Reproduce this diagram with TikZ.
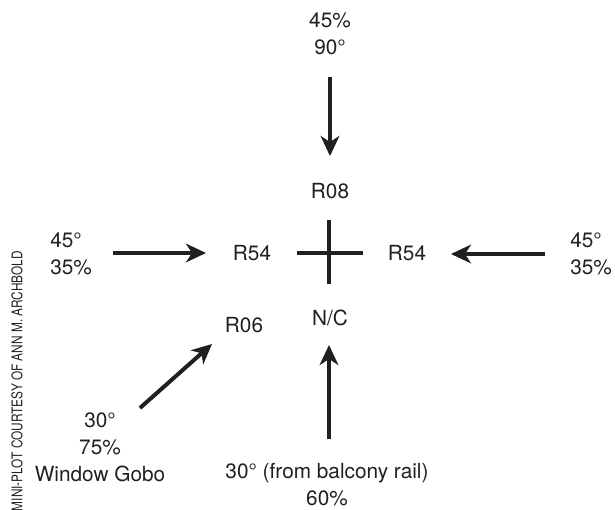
\documentclass[tikz,border=0pt]{standalone}
\usepackage{fontspec}
\setmainfont{TeX Gyre Heros}
\usetikzlibrary{arrows.meta}
\definecolor{ink}{HTML}{231F20}
\tikzset{
  lbl/.style={inner sep=0pt, text=ink, font=\fontsize{15.6}{20.25}\selectfont},
  arr/.style={draw=ink, line width=3pt, -{Stealth[length=15pt, width=14pt, inset=4.5pt]}},
  crossline/.style={draw=ink, line width=3pt}
}
\begin{document}
\begin{tikzpicture}[x=0.75pt, y=-0.75pt]
\useasboundingbox (0,0) rectangle (615,510);
% labels
\node[lbl, align=center] (top) at (330,33.5) {45\%\\90°};
\node[lbl] (r08) at (330,191) {R08};
\node[lbl] (r54l) at (252,253) {R54};
\node[lbl] (r54r) at (407,253) {R54};
\node[lbl] (r06) at (244,325) {R06};
\node[lbl] (nc) at (330,318) {N/C};
\node[lbl, align=left, anchor=west] (left) at (50,253.5) {45°\\35\%};
\node[lbl, align=left, anchor=west] (right) at (570,253.5) {45°\\35\%};
\node[lbl, align=center] (bl) at (100,447) {30°\\75\%\\Window Gobo};
\node[lbl, align=center] (bot) at (327,485) {30° (from balcony rail)\\60\%};
\node[inner sep=0pt, rotate=90, text=ink] (credit) at (17,381)
  {\resizebox{195pt}{8.25pt}{MINI-PLOT COURTESY OF ANN M. ARCHBOLD}};
% arrow endpoints
\coordinate (topS) at (330,77);
\coordinate (topE) at (330,156);
\coordinate (leftS) at (113,253);
\coordinate (leftE) at (206,253);
\coordinate (rightS) at (545,254);
\coordinate (rightE) at (451,254);
\coordinate (blS) at (140,408);
\coordinate (blE) at (212,344);
\coordinate (botS) at (329,439);
\coordinate (botE) at (329,345);
\draw[arr] (topS) -- (topE);
\draw[arr] (leftS) -- (leftE);
\draw[arr] (rightS) -- (rightE);
\draw[arr] (blS) -- (blE);
\draw[arr] (botS) -- (botE);
% cross
\coordinate (cw) at (297,253);
\coordinate (ce) at (363,253);
\coordinate (cn) at (329,220);
\coordinate (cs) at (329,284);
\draw[crossline] (cw) -- (ce);
\draw[crossline] (cn) -- (cs);
\end{tikzpicture}
\end{document}
